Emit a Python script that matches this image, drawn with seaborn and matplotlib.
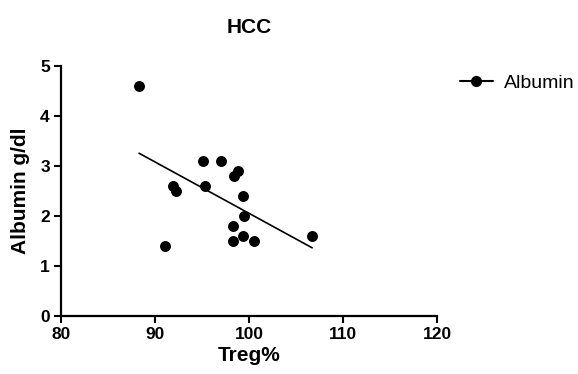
import numpy as np
import pandas as pd
import matplotlib
matplotlib.use('Agg')
import matplotlib.pyplot as plt
from matplotlib.lines import Line2D
import seaborn as sns

# values
treg = [88.3, 91.1, 91.9, 92.2, 95.1, 95.3, 97.05, 98.4, 98.8, 99.4, 99.5, 98.3, 99.3, 98.3, 100.5, 106.7]
albumin = [4.6, 1.4, 2.6, 2.5, 3.1, 2.6, 3.1, 2.8, 2.9, 2.4, 2.0, 1.8, 1.6, 1.5, 1.5, 1.6]
x_ticks = [80, 90, 100, 110, 120]
y_ticks = [0, 1, 2, 3, 4, 5]

df = pd.DataFrame({'Treg%': treg, 'Albumin': albumin})

sns.set_style('ticks')
plt.rcParams['font.family'] = ['Liberation Sans', 'DejaVu Sans']
plt.rcParams['text.color'] = 'black'
plt.rcParams['axes.labelcolor'] = 'black'

fig = plt.figure(figsize=(5.78, 3.74), dpi=100)
ax = fig.add_axes([0.1055, 0.155, 0.651, 0.668])

sns.regplot(data=df, x='Treg%', y='Albumin', ci=None, ax=ax, color='black',
            scatter_kws={'s': 62, 'linewidths': 0, 'alpha': 1, 'zorder': 3},
            line_kws={'lw': 1.2, 'color': 'black'})

ax.set_xlim(80, 120)
ax.set_ylim(0, 5)
ax.set_xticks(x_ticks)
ax.set_yticks(y_ticks)
for s in ['top', 'right']:
    ax.spines[s].set_visible(False)
for s in ['left', 'bottom']:
    ax.spines[s].set_linewidth(1.6)
    ax.spines[s].set_color('black')
ax.tick_params(width=1.5, length=5, pad=3, labelsize=12.5, colors='black')
for lab in ax.get_xticklabels() + ax.get_yticklabels():
    lab.set_fontweight('bold')

ax.set_xlabel('Treg%', fontsize=15, fontweight='bold', labelpad=3, color='black')
ax.set_ylabel('Albumin g/dl', fontsize=15, fontweight='bold', labelpad=7, color='black')
ax.set_title('HCC', fontsize=15, fontweight='bold', pad=24, color='black')

handle = Line2D([], [], color='black', lw=1.5, marker='o', markersize=7)
fig.legend([handle], ['Albumin'], loc='center left', bbox_to_anchor=(0.795, 0.778),
           frameon=False, fontsize=14, handlelength=1.7, handletextpad=0.6,
           borderpad=0, borderaxespad=0)

fig.savefig('out.png', dpi=100)
